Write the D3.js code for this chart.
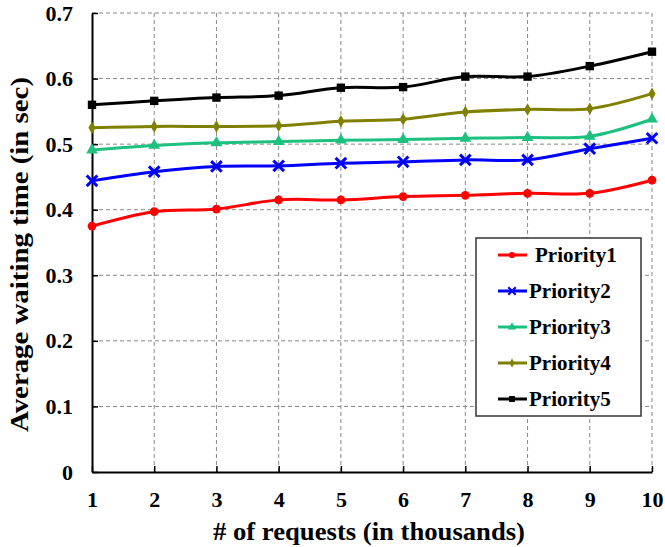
<!DOCTYPE html>
<html><head><meta charset="utf-8">
<script src="https://cdn.jsdelivr.net/npm/d3@7/dist/d3.min.js"></script>
<style>body{margin:0;background:#fff}svg{display:block}</style>
</head><body>
<svg id="c" width="665" height="547"></svg>
<script>
const requests = [1,2,3,4,5,6,7,8,9,10];
const yTicks = [0,0.1,0.2,0.3,0.4,0.5,0.6,0.7];
const seriesNames = ["Priority1","Priority2","Priority3","Priority4","Priority5"];
const priority1 = [0.375,0.397,0.401,0.415,0.415,0.420,0.422,0.425,0.425,0.445];
const priority2 = [0.444,0.458,0.466,0.467,0.471,0.473,0.476,0.476,0.493,0.509];
const priority3 = [0.491,0.498,0.502,0.504,0.506,0.507,0.509,0.510,0.512,0.538];
const priority4 = [0.525,0.527,0.527,0.528,0.535,0.538,0.549,0.553,0.554,0.577];
const priority5 = [0.560,0.566,0.571,0.574,0.586,0.587,0.603,0.603,0.619,0.641];
const seriesValues = [priority1,priority2,priority3,priority4,priority5];
const colors = ["#ff0000","#0000ff","#1dc07e","#808000","#000000"];
const symbols = ["circle","cross","triangle","diamond","square"];
const FONT = "Liberation Serif";

const svg = d3.select("#c");
const L=92,R=652,T=13,B=472;
const x = d3.scaleLinear().domain([1,10]).range([L,R]);
const y = d3.scaleLinear().domain([0,0.7]).range([B,T]);

// grid
const g = svg.append("g");
g.selectAll(".vg").data(requests.slice(1)).enter().append("line")
 .attr("x1",d=>x(d)).attr("x2",d=>x(d)).attr("y1",T).attr("y2",B)
 .attr("stroke","#888").attr("stroke-width",1).attr("stroke-dasharray","4,3");
g.selectAll(".hg").data(yTicks.slice(1)).enter().append("line")
 .attr("x1",L).attr("x2",R).attr("y1",d=>y(d)).attr("y2",d=>y(d))
 .attr("stroke","#888").attr("stroke-width",1).attr("stroke-dasharray","4,3");

// axes
const yAxis = d3.axisLeft(y).tickValues(yTicks).tickSizeInner(-6).tickSizeOuter(0).tickPadding(19)
 .tickFormat(d=>d===0?"0":d3.format(".1f")(d));
const ya = svg.append("g").attr("transform",`translate(${L},0)`).call(yAxis);
const xAxis = d3.axisBottom(x).tickValues(requests).tickSizeInner(-6).tickSizeOuter(0).tickPadding(19).tickFormat(d3.format("d"));
const xa = svg.append("g").attr("transform",`translate(0,${B})`).call(xAxis);
[ya,xa].forEach(a=>{
  a.attr("font-family",FONT).attr("font-weight","bold").attr("font-size",22);
  a.select(".domain").attr("stroke","#000").attr("stroke-width",2);
  a.selectAll(".tick line").attr("stroke","#000").attr("stroke-width",1.5);
  a.selectAll("text").attr("fill","#000");
});

// lines
const line = d3.line().x((d,i)=>x(requests[i])).y(d=>y(d)).curve(d3.curveCatmullRom.alpha(0.5));
function sym(k, scale){
  const sizes={circle:60,cross:75,triangle:60,diamond:45,square:70};
  const t={circle:d3.symbolCircle,cross:d3.symbolX,triangle:d3.symbolTriangle,diamond:d3.symbolDiamond,square:d3.symbolSquare}[k];
  return d3.symbol().type(t).size(sizes[k]*scale)();
}
seriesValues.forEach((vals,si)=>{
  svg.append("path").datum(vals).attr("d",line).attr("fill","none")
   .attr("stroke",colors[si]).attr("stroke-width",3);
  svg.selectAll(".m"+si).data(vals).enter().append("path")
   .attr("transform",(d,i)=>`translate(${x(requests[i])},${y(d)})`)
   .attr("d",sym(symbols[si],1))
   .attr("fill",symbols[si]==="cross"?"none":colors[si])
   .attr("stroke",colors[si]).attr("stroke-width",symbols[si]==="cross"?3:0);
});

// legend
const lg = svg.append("g").attr("font-family",FONT).attr("font-weight","bold");
lg.append("rect").attr("x",476).attr("y",238).attr("width",165).attr("height",178)
 .attr("fill","#fff").attr("stroke","#333").attr("stroke-width",1.5);
seriesNames.forEach((n,i)=>{
  const yy = 255 + i*36;
  lg.append("line").attr("x1",498).attr("x2",527).attr("y1",yy).attr("y2",yy)
   .attr("stroke",colors[i]).attr("stroke-width",3);
  lg.append("path").attr("transform",`translate(512,${yy})`)
   .attr("d",sym(symbols[i],0.5))
   .attr("fill",symbols[i]==="cross"?"none":colors[i])
   .attr("stroke",colors[i]).attr("stroke-width",symbols[i]==="cross"?2:0);
  lg.append("text").attr("x",i===0?535:529).attr("y",yy+7).attr("font-size",21).attr("fill","#000").text(n);
});

// titles
svg.append("text").attr("x",369).attr("y",540).attr("text-anchor","middle").attr("font-size",26).attr("fill","#000")
 .attr("font-family",FONT).attr("font-weight","bold")
 .attr("textLength",312).attr("lengthAdjust","spacingAndGlyphs").text("# of requests (in thousands)");
svg.append("text").attr("transform","translate(28,254.5) rotate(-90)").attr("text-anchor","middle").attr("font-size",26).attr("fill","#000")
 .attr("font-family",FONT).attr("font-weight","bold")
 .attr("textLength",355).attr("lengthAdjust","spacingAndGlyphs").text("Average waiting time (in sec)");
</script>
</body></html>
